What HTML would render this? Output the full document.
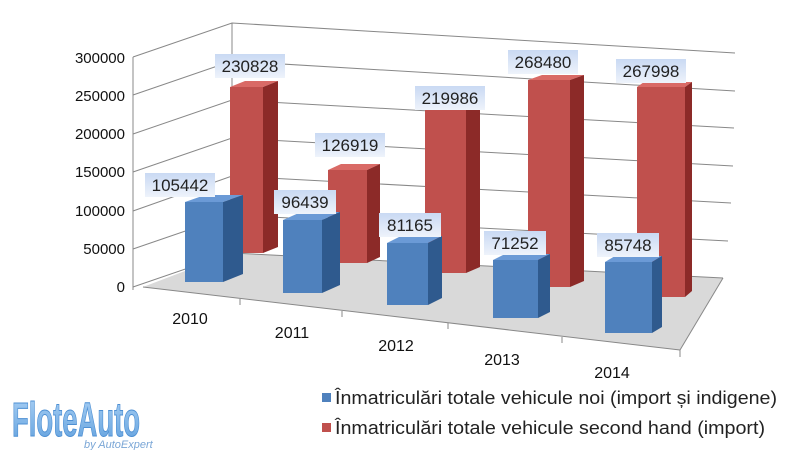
<!DOCTYPE html>
<html><head><meta charset="utf-8"><style>
body{margin:0;background:#fff}
svg{display:block}
text{font-family:"Liberation Sans",sans-serif}
</style></head><body>
<svg width="800" height="450" viewBox="0 0 800 450" xmlns="http://www.w3.org/2000/svg">
<defs>
<linearGradient id="lb" x1="0" y1="0" x2="0" y2="1"><stop offset="0" stop-color="#c9d9f3"/><stop offset="1" stop-color="#eef3fb"/></linearGradient>
<linearGradient id="logo" x1="0" y1="0" x2="0" y2="1"><stop offset="0" stop-color="#a9d0f5"/><stop offset="1" stop-color="#5f9fdc"/></linearGradient>
</defs>
<polygon points="143,287 232,253 723,278 680,350" fill="#d9d9d9"/>
<g stroke="#888" stroke-width="1" fill="none">
<polyline points="133,287 232,253 723,278"/>
<polyline points="133,249 232,215 728,241"/>
<polyline points="133,211 232,176 731,203"/>
<polyline points="133,172 232,138 733,166"/>
<polyline points="133,134 232,100 734,128"/>
<polyline points="133,95 232,61 735,91"/>
<polyline points="133,57 232,23 735,53"/>
<line x1="133" y1="57" x2="133" y2="290"/>
<line x1="232" y1="23" x2="232" y2="253"/>
<line x1="143" y1="287" x2="680" y2="350"/>
<line x1="680" y1="350" x2="723" y2="278"/>
<line x1="240" y1="299" x2="240" y2="305"/><line x1="342" y1="311" x2="342" y2="317"/>
<line x1="448" y1="323" x2="448" y2="329"/><line x1="562" y1="337" x2="562" y2="343"/>
<line x1="680" y1="350" x2="680" y2="357"/>
</g>
<g font-size="15" fill="#111" text-anchor="end">
<text x="125" y="63">300000</text><text x="125" y="101">250000</text>
<text x="125" y="139">200000</text><text x="125" y="177">150000</text>
<text x="125" y="216">100000</text><text x="125" y="254">50000</text>
<text x="125" y="292">0</text>
</g>
<g>
<polygon points="230,87 263,87 278,81 245,81" fill="#d96a66"/><polygon points="263,87 278,81 278,247 263,253" fill="#8c2a28"/><rect x="230" y="87" width="33" height="166" fill="#c0504d"/>
<polygon points="328,170 367,170 380,164 341,164" fill="#d96a66"/><polygon points="367,170 380,164 380,257 367,263" fill="#8c2a28"/><rect x="328" y="170" width="39" height="93" fill="#c0504d"/>
<polygon points="425,108 466,108 480,102 439,102" fill="#d96a66"/><polygon points="466,108 480,102 480,267 466,273" fill="#8c2a28"/><rect x="425" y="108" width="41" height="165" fill="#c0504d"/>
<polygon points="528,80 570,80 584,75 542,75" fill="#d96a66"/><polygon points="570,80 584,75 584,281 570,287" fill="#8c2a28"/><rect x="528" y="80" width="42" height="207" fill="#c0504d"/>
<polygon points="637,87 685,87 692,82 644,82" fill="#d96a66"/><polygon points="685,87 692,82 692,291 685,297" fill="#8c2a28"/><rect x="637" y="87" width="48" height="210" fill="#c0504d"/>
</g>
<g>
<polygon points="185,202 223,202 243,195 205,195" fill="#6b9ad6"/><polygon points="223,202 243,195 243,274 223,282" fill="#2f5a8e"/><rect x="185" y="202" width="38" height="80" fill="#4f81bd"/>
<polygon points="283,220 322,220 340,212 301,212" fill="#6b9ad6"/><polygon points="322,220 340,212 340,285 322,293" fill="#2f5a8e"/><rect x="283" y="220" width="39" height="73" fill="#4f81bd"/>
<polygon points="387,243 428,243 442,236 401,236" fill="#6b9ad6"/><polygon points="428,243 442,236 442,298 428,305" fill="#2f5a8e"/><rect x="387" y="243" width="41" height="62" fill="#4f81bd"/>
<polygon points="493,260 538,260 550,254 505,254" fill="#6b9ad6"/><polygon points="538,260 550,254 550,312 538,318" fill="#2f5a8e"/><rect x="493" y="260" width="45" height="58" fill="#4f81bd"/>
<polygon points="605,262 652,262 662,256 615,256" fill="#6b9ad6"/><polygon points="652,262 662,256 662,327 652,333" fill="#2f5a8e"/><rect x="605" y="262" width="47" height="71" fill="#4f81bd"/>
</g>
<g font-size="17" fill="#222" text-anchor="middle">
<rect x="215" y="54" width="70" height="24" fill="url(#lb)"/><text x="250" y="72">230828</text>
<rect x="315" y="133" width="70" height="24" fill="url(#lb)"/><text x="350" y="151">126919</text>
<rect x="415" y="86" width="70" height="24" fill="url(#lb)"/><text x="450" y="104">219986</text>
<rect x="508" y="50" width="70" height="24" fill="url(#lb)"/><text x="543" y="68">268480</text>
<rect x="616" y="59" width="70" height="24" fill="url(#lb)"/><text x="651" y="77">267998</text>
<rect x="145" y="173" width="70" height="24" fill="url(#lb)"/><text x="180" y="191">105442</text>
<rect x="274" y="190" width="62" height="24" fill="url(#lb)"/><text x="305" y="208">96439</text>
<rect x="379" y="213" width="62" height="24" fill="url(#lb)"/><text x="410" y="231">81165</text>
<rect x="484" y="231" width="62" height="24" fill="url(#lb)"/><text x="515" y="249">71252</text>
<rect x="597" y="233" width="62" height="24" fill="url(#lb)"/><text x="628" y="251">85748</text>
</g>
<g font-size="16" fill="#111" text-anchor="middle">
<text x="190" y="324">2010</text><text x="292" y="338">2011</text><text x="396" y="351">2012</text>
<text x="502" y="365">2013</text><text x="612" y="378">2014</text>
</g>
<rect x="322" y="393" width="9" height="9" fill="#4f81bd"/>
<rect x="322" y="423" width="9" height="9" fill="#c0504d"/>
<g font-size="18" fill="#222">
<text x="335" y="404" textLength="442" lengthAdjust="spacingAndGlyphs">Înmatriculări totale vehicule noi (import și indigene)</text>
<text x="335" y="434" textLength="430" lengthAdjust="spacingAndGlyphs">Înmatriculări totale vehicule second hand (import)</text>
</g>
<text x="12" y="436" font-size="48" font-weight="bold" fill="url(#logo)" stroke="#4d8fd3" stroke-width="1" textLength="128" lengthAdjust="spacingAndGlyphs">FloteAuto</text>
<text x="84" y="448" font-size="11" font-style="italic" fill="#7aa6d6" font-family="Liberation Serif,serif">by AutoExpert</text>
</svg>
</body></html>
